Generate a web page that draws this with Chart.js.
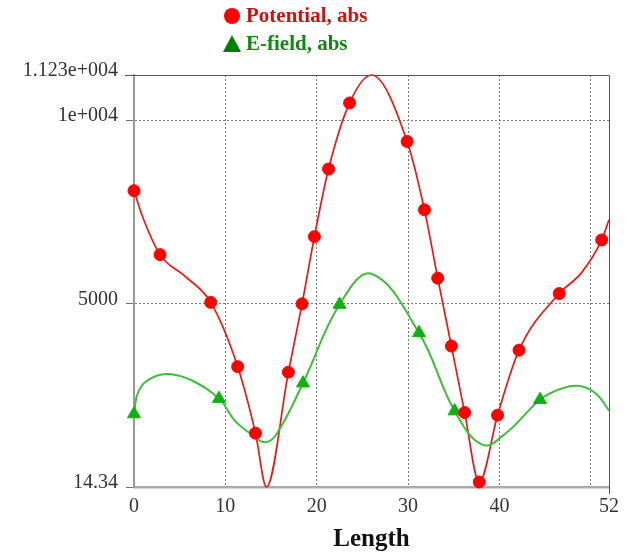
<!DOCTYPE html>
<html>
<head>
<meta charset="utf-8">
<script src="https://cdn.jsdelivr.net/npm/chart.js@4.4.1/dist/chart.umd.min.js"></script>
<style>
  html, body { margin: 0; padding: 0; background: #fff; }
  canvas { display: block; }
</style>
</head>
<body>
<canvas id="fieldChart" width="641" height="558"></canvas>
<script>
// curve samples (x = Length)
const potentialX = [0, 0.9, 2.85, 5.6, 8.4, 11.35, 13.3, 14.5, 16.9, 18.4, 19.75, 21.3, 23.6, 26.0, 29.9, 31.8, 33.25, 34.75, 36.2, 37.8, 39.8, 42.15, 46.55, 49.0, 51.2, 52];
const potentialY = [8080, 7400, 6340, 5750, 5040, 3290, 1480, 14.34, 3140, 5000, 6830, 8670, 10470, 11230, 9420, 7560, 5700, 3850, 2040, 150, 1970, 3740, 5280, 5850, 6740, 7290];
// which samples carry a marker
const potentialMarks = [0, 2, 4, 5, 6, 8, 9, 10, 11, 12, 14, 15, 16, 17, 18, 19, 20, 21, 22, 24];

const efieldX = [0, 0.3, 0.84, 1.57, 2.66, 4.1, 6.3, 9.3, 11.06, 13.07, 14.34, 15.6, 18.5, 22.5, 26.0, 31.2, 35.1, 38.2, 40.8, 44.45, 46.6, 48.8, 50.65, 52];
const efieldY = [2000, 2490, 2765, 2930, 3055, 3085, 2920, 2420, 1815, 1410, 1230, 1450, 2840, 4980, 5820, 4210, 2080, 1160, 1500, 2390, 2675, 2765, 2540, 2090];
const efieldMarks = [0, 7, 12, 13, 15, 16, 19];

const xTicks = [0, 10, 20, 30, 40, 50, 52];
const xTickLabels = ['0', '10', '20', '30', '40', '', '52'];
const yTicks = [14.34, 5000, 10000, 11230];
const yTickLabels = ['14.34', '5000', '1e+004', '1.123e+004'];

const toPoints = (xs, ys) => xs.map((x, i) => ({ x: x, y: ys[i] }));
const pick = (xs, ys, idx) => idx.map(i => ({ x: xs[i], y: ys[i] }));

const serif = '"Liberation Serif", "Times New Roman", serif';

// legend stacked over the plot, marker + bold text
const stackedLegend = {
    id: 'stackedLegend',
    afterDraw(chart) {
        const ctx = chart.ctx;
        ctx.save();
        ctx.font = 'bold 21px ' + serif;
        ctx.textBaseline = 'middle';
        ctx.textAlign = 'left';

        ctx.fillStyle = '#ff0000';
        ctx.beginPath();
        ctx.arc(232, 16, 8, 0, Math.PI * 2);
        ctx.fill();
        ctx.fillStyle = '#cc1111';
        ctx.fillText(chart.data.datasets[0].label, 246, 17);

        ctx.fillStyle = '#008000';
        ctx.beginPath();
        ctx.moveTo(232, 35);
        ctx.lineTo(241, 52);
        ctx.lineTo(223, 52);
        ctx.closePath();
        ctx.fill();
        ctx.fillStyle = '#118811';
        ctx.fillText(chart.data.datasets[1].label, 246, 45);
        ctx.restore();
    }
};

// top and right edges of the plot frame
const frame = {
    id: 'frame',
    beforeDatasetsDraw(chart) {
        const { ctx, chartArea: a } = chart;
        ctx.save();
        ctx.strokeStyle = '#555';
        ctx.lineWidth = 1;
        ctx.beginPath();
        ctx.moveTo(a.left - 9, a.top + 0.5);
        ctx.lineTo(a.right + 0.5, a.top + 0.5);
        ctx.lineTo(a.right + 0.5, a.bottom + 7);
        ctx.stroke();
        ctx.restore();
    }
};

const ctx = document.getElementById('fieldChart').getContext('2d');

new Chart(ctx, {
    type: 'line',
    data: {
        datasets: [{
            label: 'Potential, abs',
            data: pick(potentialX, potentialY, potentialMarks),
            showLine: false,
            pointStyle: 'circle',
            pointRadius: 6,
            pointBackgroundColor: '#ff0000',
            pointBorderColor: '#ff0000',
            pointBorderWidth: 1,
            clip: false,
            order: 0
        }, {
            label: 'E-field, abs',
            data: pick(efieldX, efieldY, efieldMarks),
            showLine: false,
            pointStyle: 'triangle',
            pointRadius: 7.5,
            pointBackgroundColor: '#11b011',
            pointBorderColor: '#11b011',
            pointBorderWidth: 1,
            clip: false,
            order: 1
        }, {
            label: 'E-field curve',
            data: toPoints(efieldX, efieldY),
            borderColor: '#3cc03c',
            borderWidth: 2,
            pointRadius: 0,
            tension: 0.4,
            clip: 3,
            order: 2
        }, {
            label: 'Potential curve',
            data: toPoints(potentialX, potentialY),
            borderColor: '#ee1515',
            borderWidth: 1.7,
            pointRadius: 0,
            cubicInterpolationMode: 'monotone',
            clip: 3,
            order: 3
        }]
    },
    options: {
        responsive: false,
        animation: false,
        layout: {
            padding: { top: 75, right: 32, left: 0, bottom: 0 }
        },
        plugins: {
            legend: { display: false },
            tooltip: { enabled: false }
        },
        scales: {
            x: {
                type: 'linear',
                min: 0,
                max: 52,
                afterFit(scale) { scale.height = 71; },
                afterBuildTicks(scale) { scale.ticks = xTicks.map(v => ({ value: v })); },
                ticks: {
                    autoSkip: false,
                    maxRotation: 0,
                    padding: 8,
                    color: '#333',
                    font: { family: serif, size: 20 },
                    callback: (v) => xTickLabels[xTicks.indexOf(v)]
                },
                grid: {
                    drawTicks: false,
                    color: (c) => (c.tick && (c.tick.value === 0 || c.tick.value === 52)) ? 'rgba(0,0,0,0)' : '#777',
                    lineWidth: 1
                },
                border: { display: true, color: '#aaa', width: 2.5, dash: [2, 2] },
                title: {
                    display: true,
                    text: 'Length',
                    color: '#111',
                    font: { family: serif, size: 25, weight: 'bold' },
                    padding: { top: 0, bottom: 3 }
                }
            },
            y: {
                type: 'linear',
                min: 14.34,
                max: 11230,
                afterFit(scale) { scale.width = 134; },
                afterBuildTicks(scale) { scale.ticks = yTicks.map(v => ({ value: v })); },
                ticks: {
                    autoSkip: false,
                    padding: 8,
                    labelOffset: -4,
                    color: '#333',
                    font: { family: serif, size: 20 },
                    callback: (v) => yTickLabels[yTicks.indexOf(v)]
                },
                grid: {
                    drawTicks: true,
                    tickLength: 8,
                    tickColor: '#777',
                    color: (c) => (c.tick && (c.tick.value === 14.34 || c.tick.value === 11230)) ? 'rgba(0,0,0,0)' : '#777',
                    lineWidth: 1
                },
                border: { display: true, color: '#999', width: 2, dash: [2, 2] }
            }
        }
    },
    plugins: [frame, stackedLegend]
});
</script>
</body>
</html>
